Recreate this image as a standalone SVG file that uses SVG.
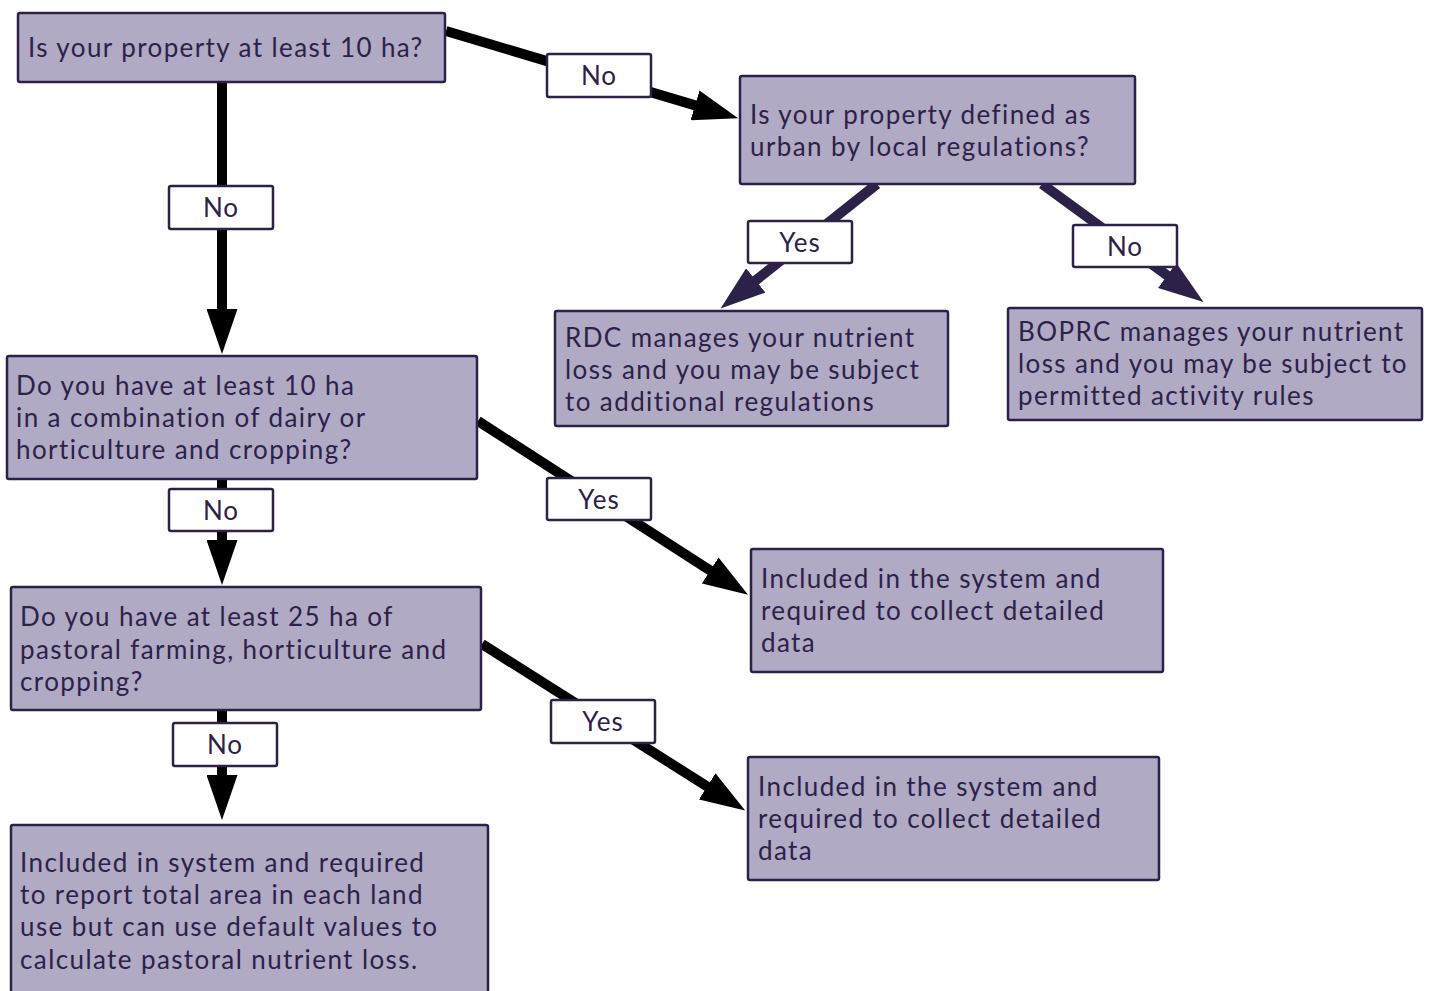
<svg xmlns="http://www.w3.org/2000/svg" width="1430" height="991" viewBox="0 0 1430 991">
<style>
.node rect{fill:#b0aac4;stroke:#2e2149;stroke-width:2.5}
.node text{font-family:Lato,"Open Sans",sans-serif;font-size:26px;fill:#2e2149;letter-spacing:1.4px}
.lbl rect{fill:#ffffff;stroke:#2e2149;stroke-width:2.5}
.lbl text{font-family:Lato,"Open Sans",sans-serif;font-size:26px;fill:#2e2149;text-anchor:middle;letter-spacing:1px}
.cb{stroke:#000;stroke-width:10;fill:none}
.cp{stroke:#2e2149;stroke-width:10;fill:none}
</style>
<defs>
<marker id="hb" viewBox="0 0 45 31" markerWidth="4.5" markerHeight="3.1" refX="1" refY="15.5" orient="auto" markerUnits="strokeWidth"><path d="M0,0 L45,15.5 L0,31 z" fill="#000"/></marker>
<marker id="hp" viewBox="0 0 45 31" markerWidth="4.5" markerHeight="3.1" refX="1" refY="15.5" orient="auto" markerUnits="strokeWidth"><path d="M0,0 L45,15.5 L0,31 z" fill="#2e2149"/></marker>
</defs>
<g id="connectors">
<line class="cb" x1="446" y1="31" x2="696" y2="105.6" marker-end="url(#hb)"/>
<line class="cb" x1="222" y1="82" x2="222" y2="310" marker-end="url(#hb)"/>
<line class="cp" x1="877" y1="184" x2="755" y2="281" marker-end="url(#hp)"/>
<line class="cp" x1="1042" y1="184" x2="1168" y2="276" marker-end="url(#hp)"/>
<line class="cb" x1="478" y1="421" x2="711" y2="571" marker-end="url(#hb)"/>
<line class="cb" x1="222" y1="479" x2="222" y2="541" marker-end="url(#hb)"/>
<line class="cb" x1="482" y1="644" x2="708" y2="787" marker-end="url(#hb)"/>
<line class="cb" x1="222" y1="710" x2="222" y2="776" marker-end="url(#hb)"/>
<g class="lbl"><rect x="547" y="54" width="104" height="43" rx="2"/><text x="599" y="85">No</text></g>
<g class="lbl"><rect x="169" y="186" width="104" height="43" rx="2"/><text x="221" y="217">No</text></g>
<g class="lbl"><rect x="748" y="221" width="104" height="42" rx="2"/><text x="800" y="252">Yes</text></g>
<g class="lbl"><rect x="1073" y="225" width="104" height="42" rx="2"/><text x="1125" y="256">No</text></g>
<g class="lbl"><rect x="547" y="478" width="104" height="42" rx="2"/><text x="599" y="509">Yes</text></g>
<g class="lbl"><rect x="169" y="489" width="104" height="42" rx="2"/><text x="221" y="520">No</text></g>
<g class="lbl"><rect x="173" y="723" width="104" height="43" rx="2"/><text x="225" y="754">No</text></g>
<g class="lbl"><rect x="551" y="700" width="104" height="43" rx="2"/><text x="603" y="731">Yes</text></g>
</g>
<g id="n1" class="node"><rect x="18" y="13" width="427" height="69" rx="2"/><text x="28" y="57">Is your property at least 10 ha?</text></g>
<g id="n2" class="node"><rect x="740" y="76" width="395" height="108" rx="2"/><text x="750" y="124">Is your property defined as</text><text x="750" y="156">urban by local regulations?</text></g>
<g id="n3" class="node"><rect x="555" y="311" width="393" height="115" rx="2"/><text x="565" y="347">RDC manages your nutrient</text><text x="565" y="379">loss and you may be subject</text><text x="565" y="411">to additional regulations</text></g>
<g id="n4" class="node"><rect x="1008" y="308" width="414" height="112" rx="2"/><text x="1018" y="341">BOPRC manages your nutrient</text><text x="1018" y="373">loss and you may be subject to</text><text x="1018" y="405">permitted activity rules</text></g>
<g id="n5" class="node"><rect x="7" y="356" width="470" height="123" rx="2"/><text x="16" y="395">Do you have at least 10 ha</text><text x="16" y="427">in a combination of dairy or</text><text x="16" y="459">horticulture and cropping?</text></g>
<g id="n6" class="node"><rect x="751" y="549" width="412" height="123" rx="2"/><text x="761" y="588">Included in the system and</text><text x="761" y="620">required to collect detailed</text><text x="761" y="652">data</text></g>
<g id="n7" class="node"><rect x="11" y="587" width="470" height="123" rx="2"/><text x="20" y="626">Do you have at least 25 ha of</text><text x="20" y="659">pastoral farming, horticulture and</text><text x="20" y="691">cropping?</text></g>
<g id="n8" class="node"><rect x="748" y="757" width="411" height="123" rx="2"/><text x="758" y="796">Included in the system and</text><text x="758" y="828">required to collect detailed</text><text x="758" y="860">data</text></g>
<g id="n9" class="node"><rect x="11" y="825" width="477" height="180" rx="2"/><text x="20" y="872">Included in system and required</text><text x="20" y="904">to report total area in each land</text><text x="20" y="936">use but can use default values to</text><text x="20" y="969">calculate pastoral nutrient loss.</text></g>
</svg>
